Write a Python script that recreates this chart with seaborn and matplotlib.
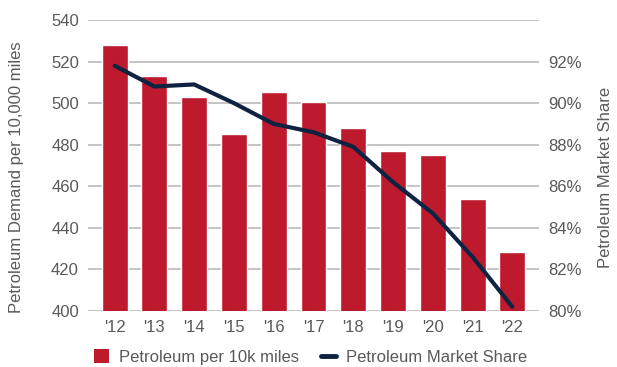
import matplotlib
matplotlib.use("Agg")
import matplotlib.pyplot as plt
import seaborn as sns
import numpy as np
import pandas as pd
from matplotlib.patches import Patch
from matplotlib.lines import Line2D
from matplotlib.ticker import FuncFormatter

years = ["'12", "'13", "'14", "'15", "'16", "'17", "'18", "'19", "'20", "'21", "'22"]
demand = [528, 513, 503, 485, 505.5, 500.5, 488, 477, 475, 454, 428.5]
share = [91.8, 90.8, 90.9, 90.0, 89.0, 88.6, 87.9, 86.2, 84.7, 82.6, 80.2]
left_ticks = [400, 420, 440, 460, 480, 500, 520, 540]
right_ticks = [80, 82, 84, 86, 88, 90, 92]

RED = "#BE1A2E"
NAVY = "#0E2341"
GREY = "#595959"
GRID = "#BFBFBF"
FS = 12

sns.set_theme(style="white")
plt.rcParams["font.family"] = ["Liberation Sans", "DejaVu Sans"]

df = pd.DataFrame({"year": years, "demand": demand, "share": share})

fig = plt.figure(figsize=(6.17, 3.67), dpi=100)
ax = fig.add_axes([88/617, 1-311/367, (539-88)/617, (311-20)/367])

sns.barplot(data=df, x="year", y="demand", color=RED, saturation=1, width=0.65, ax=ax, zorder=2)
ax.set_ylim(400, 540)
ax.set_yticks(left_ticks)
ax.yaxis.grid(True, color=GRID, linewidth=1.3, zorder=0)
ax.set_axisbelow(True)
for s in ax.spines.values():
    s.set_visible(False)
ax.tick_params(axis="both", length=0, labelsize=FS, labelcolor=GREY, pad=6.5)
ax.set_xlabel("")
ax.set_ylabel("Petroleum Demand per 10,000 miles", fontsize=FS, color=GREY)
ax.yaxis.set_label_coords(-0.142, 0.46)

ax2 = ax.twinx()
sns.pointplot(data=df, x="year", y="share", color=NAVY, markers="", linewidth=3, ax=ax2)
ax2.set_ylim(80, 94)
ax2.set_yticks(right_ticks)
ax2.yaxis.set_major_formatter(FuncFormatter(lambda v, p: f"{v:.0f}%"))
for s in ax2.spines.values():
    s.set_visible(False)
ax2.tick_params(axis="both", length=0, labelsize=FS, labelcolor=GREY, pad=6.5)
ax2.set_ylabel("Petroleum Market Share", fontsize=FS, color=GREY)
ax2.yaxis.set_label_coords(1.131, 0.46)
ax2.grid(False)
ax.set_xlim(-0.67, len(years) - 1 + 0.67)
ax2.set_xlim(-0.67, len(years) - 1 + 0.67)

handles = [Patch(facecolor=RED, edgecolor="none"), Line2D([0], [0], color=NAVY, linewidth=3.5)]
fig.legend(handles, ["Petroleum per 10k miles", "Petroleum Market Share"], loc="center",
           bbox_to_anchor=(0.5 + 2/617, 1-357/367), ncol=2, frameon=False, fontsize=FS,
           labelcolor=GREY, handlelength=0.9, handleheight=0.9, columnspacing=1.3, handletextpad=0.6)

fig.savefig("out.png", dpi=100)
